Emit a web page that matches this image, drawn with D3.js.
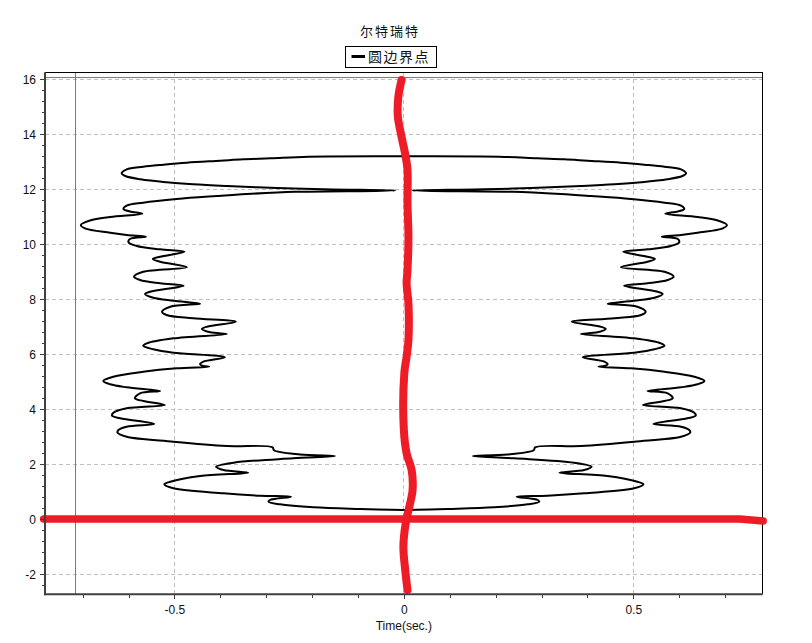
<!DOCTYPE html>
<html><head><meta charset="utf-8">
<script src="https://cdn.jsdelivr.net/npm/d3@7"></script>
<style>body{margin:0;background:#fff}svg{display:block}</style>
</head><body>
<svg id="c" width="812" height="643"></svg>
<script>
// ---------------- data ----------------
const chartTitle = "尔特瑞特";
const seriesName = "圆边界点";
const xLabel = "Time(sec.)";
const xTicks = [-0.5, 0, 0.5];
const yTicks = [-2, 0, 2, 4, 6, 8, 10, 12, 14, 16];
const xMinorTicks = [-0.7,-0.6,-0.4,-0.3,-0.2,-0.1,0.1,0.2,0.3,0.4,0.6,0.7];
const yMinorTicks = [-2.4,-1.6,-1.2,-0.8,-0.4,0.4,0.8,1.2,1.6,2.4,2.8,3.2,3.6,4.4,4.8,5.2,5.6,6.4,6.8,7.2,7.6,8.4,8.8,9.2,9.6,10.4,10.8,11.2,11.6,12.4,12.8,13.2,13.6,14.4,14.8,15.2,15.6];

// boundary curve: shared y values, left-half x and right-half x (top centre -> bottom centre)
const curveY = [13.200,13.185,13.127,13.091,13.040,12.967,12.895,12.822,12.727,12.582,
  12.484,12.364,12.255,12.182,12.120,12.047,12.000,11.956,11.927,11.909,
  11.829,11.756,11.647,11.513,11.404,11.284,11.193,11.113,10.993,10.865,
  10.702,10.582,10.422,10.338,10.276,10.193,10.073,9.938,9.818,9.731,
  9.549,9.465,9.367,9.164,9.004,8.822,8.702,8.582,8.495,8.276,
  8.193,8.058,7.949,7.840,7.731,7.549,7.429,7.309,7.185,7.004,
  6.920,6.800,6.738,6.582,6.400,6.313,6.182,6.058,5.891,5.731,
  5.636,5.575,5.549,5.491,5.367,5.185,5.029,4.909,4.800,4.665,
  4.582,4.400,4.302,4.156,4.036,3.876,3.767,3.673,3.465,3.367,
  3.247,3.149,3.004,2.822,2.665,2.618,2.509,2.356,2.302,2.218,
  2.058,1.913,1.793,1.695,1.575,1.367,1.273,1.127,0.945,0.858,
  0.822,0.702,0.640,0.545,0.436,0.375,0.338];
const leftX = [0,-0.208,-0.291,-0.350,-0.400,-0.473,-0.524,-0.568,-0.604,-0.615,
  -0.607,-0.574,-0.517,-0.459,-0.386,-0.277,-0.175,-0.019,-0.124,-0.237,
  -0.342,-0.408,-0.495,-0.568,-0.604,-0.611,-0.597,-0.570,-0.640,-0.684,
  -0.704,-0.695,-0.640,-0.604,-0.562,-0.597,-0.600,-0.582,-0.531,-0.478,
  -0.531,-0.547,-0.531,-0.473,-0.568,-0.588,-0.575,-0.531,-0.480,-0.553,
  -0.564,-0.546,-0.502,-0.444,-0.509,-0.527,-0.517,-0.459,-0.366,-0.429,
  -0.440,-0.422,-0.386,-0.502,-0.560,-0.568,-0.546,-0.502,-0.390,-0.437,
  -0.444,-0.437,-0.424,-0.495,-0.568,-0.633,-0.655,-0.640,-0.604,-0.531,
  -0.575,-0.586,-0.568,-0.521,-0.604,-0.633,-0.636,-0.618,-0.544,-0.604,
  -0.622,-0.624,-0.604,-0.502,-0.386,-0.286,-0.283,-0.226,-0.150,-0.241,
  -0.371,-0.409,-0.393,-0.339,-0.444,-0.509,-0.522,-0.502,-0.393,-0.313,
  -0.246,-0.292,-0.295,-0.270,-0.197,-0.095,0];
const rightX = [0,0.208,0.291,0.350,0.400,0.473,0.524,0.568,0.604,0.615,
  0.607,0.574,0.517,0.459,0.386,0.277,0.175,0.019,0.124,0.237,
  0.342,0.408,0.495,0.568,0.604,0.611,0.597,0.570,0.640,0.684,
  0.704,0.695,0.640,0.604,0.562,0.597,0.600,0.582,0.531,0.478,
  0.531,0.547,0.531,0.473,0.568,0.588,0.575,0.531,0.480,0.553,
  0.564,0.546,0.502,0.444,0.509,0.527,0.517,0.459,0.366,0.429,
  0.440,0.422,0.386,0.502,0.560,0.568,0.546,0.502,0.390,0.437,
  0.444,0.437,0.424,0.495,0.568,0.633,0.655,0.640,0.604,0.531,
  0.575,0.586,0.568,0.521,0.604,0.633,0.636,0.618,0.544,0.604,
  0.622,0.624,0.604,0.502,0.386,0.286,0.283,0.226,0.150,0.241,
  0.371,0.409,0.393,0.339,0.444,0.509,0.522,0.502,0.393,0.313,
  0.246,0.292,0.295,0.270,0.197,0.095,0];

// red hand-drawn marks
const markVX = [-0.005,-0.012,-0.013,-0.005,0.004,0.008,0.008,0.010,0.008,0.006,0.010,0.010,0.006,0.001,0.000,0.006,0.017,0.019,0.012,0.004,-0.001,0.003,0.008];
const markVY = [15.975,15.367,14.640,13.913,13.185,12.702,11.491,10.276,9.065,8.582,7.855,6.520,5.913,5.309,3.247,2.400,1.793,1.065,0.458,-0.145,-0.996,-1.844,-2.571];
const markHX = [-0.785, 0.000, 0.732, 0.783];
const markHY = [0.011, 0.011, 0.011, -0.062];

// cursor lines
const cursorX = [-0.716];
const cursorY = [16.08];

// ---------------- layout ----------------
const W = 812, H = 643;
const m = {l: 45, r: 49.3, t: 72.3, b: 48.7};
const x = d3.scaleLinear().domain([-0.782, 0.782]).range([m.l, W - m.r]);
const y = d3.scaleLinear().domain([-2.727, 16.255]).range([H - m.b, m.t]);
const svg = d3.select("#c");
const fmt = d => String(d);

// grid
const grid = svg.append("g").attr("stroke", "#c0c0c0").attr("stroke-dasharray", "4,3").attr("shape-rendering", "crispEdges");
grid.selectAll("line.gy").data(yTicks).join("line")
  .attr("x1", m.l).attr("x2", W - m.r).attr("y1", d => y(d)).attr("y2", d => y(d));
grid.selectAll("line.gx").data(xTicks).join("line")
  .attr("y1", m.t).attr("y2", H - m.b).attr("x1", d => x(d)).attr("x2", d => x(d));

// cursor lines (green)
const cur = svg.append("g").attr("stroke", "#4e9a46").attr("stroke-width", 1.2).attr("shape-rendering", "crispEdges");
cur.selectAll("line.v").data(cursorX).join("line")
  .attr("x1", d => x(d)).attr("x2", d => x(d)).attr("y1", m.t).attr("y2", H - m.b);
cur.selectAll("line.h").data(cursorY).join("line")
  .attr("x1", m.l).attr("x2", W - m.r).attr("y1", d => y(d)).attr("y2", d => y(d));

// boundary curve
const pts = leftX.map((v, i) => [v, curveY[i]])
  .concat(rightX.map((v, i) => [v, curveY[i]]).reverse());
const line = d3.line().x(d => x(d[0])).y(d => y(d[1])).curve(d3.curveCatmullRom.alpha(0.5));
svg.append("path").datum(pts).attr("d", line)
  .attr("fill", "none").attr("stroke", "#000").attr("stroke-width", 2).attr("stroke-linejoin", "round");

// frame (top/right)
svg.append("line").attr("x1", m.l).attr("x2", W - m.r).attr("y1", m.t).attr("y2", m.t).attr("stroke", "#000").attr("shape-rendering", "crispEdges");
svg.append("line").attr("x1", W - m.r).attr("x2", W - m.r).attr("y1", m.t).attr("y2", H - m.b).attr("stroke", "#000").attr("shape-rendering", "crispEdges");

// red marks
const redLine = d3.line().x(d => x(d[0])).y(d => y(d[1])).curve(d3.curveCatmullRom.alpha(0.5));
svg.append("path").datum(markHX.map((v, i) => [v, markHY[i]])).attr("d", d3.line().x(d => x(d[0])).y(d => y(d[1])))
  .attr("fill", "none").attr("stroke", "#ee1c27").attr("stroke-width", 7.5).attr("stroke-linecap", "round").attr("stroke-linejoin", "round");
svg.append("path").datum(markVX.map((v, i) => [v, markVY[i]])).attr("d", redLine)
  .attr("fill", "none").attr("stroke", "#ee1c27").attr("stroke-width", 8).attr("stroke-linecap", "round").attr("stroke-linejoin", "round");

// axes
const axisColor = "#404040";
const gy = svg.append("g").attr("transform", `translate(${m.l},0)`)
  .call(d3.axisLeft(y).tickValues(yTicks).tickSize(5).tickPadding(4).tickFormat(fmt));
const gym = svg.append("g").attr("transform", `translate(${m.l},0)`)
  .call(d3.axisLeft(y).tickValues(yMinorTicks).tickSize(3).tickFormat(""));
const gx = svg.append("g").attr("transform", `translate(0,${H - m.b})`)
  .call(d3.axisBottom(x).tickValues(xTicks).tickSize(5).tickPadding(6).tickFormat(fmt));
const gxm = svg.append("g").attr("transform", `translate(0,${H - m.b})`)
  .call(d3.axisBottom(x).tickValues(xMinorTicks).tickSize(4).tickFormat(""));
[gy, gym, gx, gxm].forEach(g => {
  g.select(".domain").remove();
  g.selectAll(".tick line").attr("stroke", axisColor).attr("shape-rendering", "crispEdges");
  g.selectAll("text").attr("fill", "#111").style("font-family", "'Liberation Sans', Arial, sans-serif").style("font-size", "12px");
});
svg.append("line").attr("x1", m.l).attr("x2", m.l).attr("y1", m.t).attr("y2", H - m.b + 1)
  .attr("stroke", axisColor).attr("stroke-width", 2);
svg.append("line").attr("x1", m.l - 1).attr("x2", W - m.r).attr("y1", H - m.b).attr("y2", H - m.b)
  .attr("stroke", axisColor).attr("stroke-width", 2);

// x label
svg.append("text").attr("x", x(0)).attr("y", 630).attr("text-anchor", "middle")
  .style("font-family", "'Liberation Sans', Arial, sans-serif").style("font-size", "12px").attr("fill", "#111").text(xLabel);

// title
svg.append("text").attr("x", 390).attr("y", 36).attr("text-anchor", "middle")
  .style("font-family", "'Noto Sans CJK SC', sans-serif").style("font-size", "13px").style("letter-spacing", "2px")
  .attr("fill", "#111").text(chartTitle);

// legend
const lg = svg.append("g");
lg.append("rect").attr("x", 345.5).attr("y", 46.5).attr("width", 91).attr("height", 21)
  .attr("fill", "#fff").attr("stroke", "#000");
lg.append("line").attr("x1", 351.5).attr("x2", 365).attr("y1", 56.5).attr("y2", 56.5).attr("stroke", "#000").attr("stroke-width", 3);
lg.append("text").attr("x", 368).attr("y", 62).style("font-family", "'Noto Sans CJK SC', sans-serif")
  .style("font-size", "14px").style("letter-spacing", "1.5px").attr("fill", "#111").text(seriesName);
</script>
</body></html>
